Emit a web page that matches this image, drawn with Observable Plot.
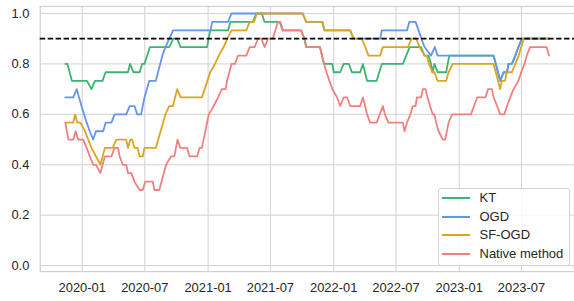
<!DOCTYPE html>
<html><head><meta charset="utf-8">
<script src="https://cdn.jsdelivr.net/npm/d3@7"></script>
<script src="https://cdn.jsdelivr.net/npm/@observablehq/plot@0.6"></script>
<style>
body{margin:0;background:#fff;}
#wrap{position:relative;width:574px;height:301px;overflow:hidden;font-family:"Liberation Sans",Arial,sans-serif;color:#262626;}
#wrap svg{position:absolute;left:0;top:0;}
.legend{position:absolute;left:437.5px;top:187.5px;width:130px;height:76px;border:1px solid #d4d4d4;border-radius:3px;background:rgba(255,255,255,0.85);}
.row{position:absolute;left:0;height:0;}
.sw{position:absolute;left:3px;width:28px;height:2px;top:-1px;}
.lab{position:absolute;left:41px;top:-8px;font-size:13px;line-height:16px;white-space:nowrap;}
</style></head>
<body><div id="wrap"></div>
<script>
// Series names and colours
const seriesNames = ["KT", "OGD", "SF-OGD", "Native method"];
const seriesColors = ["#3cb371", "#6495ed", "#daa520", "#f08080"];

// x = days since 2020-01-01, y = coverage
const ktDays = [-49,-43,-30,14,27,37,59,68,133,139,149,167,174,181,197,253,265,276,286,363,372,424,431,496,506,522,530,574,583,636,646,651,691,703,727,731,750,760,775,784,808,816,828,856,871,932,952,985,995,1007,1014,1018,1024,1033,1058,1067,1196,1215,1225,1235,1239,1249,1259,1268,1278,1357];
const ktValues = [0.8,0.8,0.733,0.733,0.7,0.733,0.733,0.767,0.767,0.8,0.767,0.767,0.8,0.8,0.867,0.867,0.9,0.9,0.867,0.867,0.933,0.933,0.967,0.967,1.0,1.0,0.967,0.967,0.933,0.933,0.9,0.867,0.867,0.8,0.8,0.767,0.767,0.8,0.8,0.767,0.767,0.8,0.733,0.733,0.8,0.8,0.867,0.867,0.833,0.833,0.8,0.767,0.8,0.767,0.767,0.833,0.833,0.733,0.767,0.767,0.8,0.8,0.833,0.867,0.9,0.9];

const ogdDays = [-49,-26,-16,-2,13,22,32,40,61,68,85,94,128,138,152,160,171,181,195,214,233,242,264,373,378,424,434,641,651,698,704,779,789,866,871,944,951,969,978,986,995,1014,1025,1033,1196,1215,1225,1235,1239,1249,1259,1268,1278,1357];
const ogdValues = [0.667,0.667,0.7,0.633,0.567,0.533,0.5,0.533,0.533,0.567,0.567,0.6,0.6,0.633,0.633,0.6,0.6,0.667,0.733,0.733,0.833,0.867,0.933,0.933,0.967,0.967,1.0,1.0,0.967,0.967,0.933,0.933,0.9,0.9,0.933,0.933,0.967,0.967,0.933,0.9,0.867,0.833,0.867,0.833,0.833,0.733,0.767,0.767,0.8,0.8,0.833,0.867,0.9,0.9];

const sfDays = [-49,-26,-21,-14,-5,8,27,53,66,89,99,128,133,140,145,152,161,167,176,181,214,242,253,264,276,286,348,356,372,386,397,411,422,434,477,487,499,508,641,651,698,704,779,789,813,823,832,866,874,947,957,971,981,995,1001,1008,1018,1024,1033,1058,1065,1077,1196,1215,1220,1229,1234,1249,1259,1269,1276,1284,1357];
const sfValues = [0.567,0.567,0.6,0.567,0.567,0.533,0.467,0.4,0.467,0.467,0.5,0.5,0.467,0.5,0.5,0.467,0.467,0.433,0.433,0.467,0.467,0.6,0.633,0.633,0.7,0.667,0.667,0.7,0.767,0.8,0.833,0.867,0.9,0.933,0.933,0.967,0.967,1.0,1.0,0.967,0.967,0.933,0.933,0.9,0.9,0.867,0.833,0.833,0.867,0.867,0.9,0.9,0.867,0.833,0.833,0.8,0.767,0.767,0.733,0.733,0.767,0.8,0.8,0.7,0.733,0.733,0.767,0.767,0.8,0.833,0.867,0.9,0.9];

const nativeDays = [-49,-40,-26,-19,-12,3,13,22,32,40,53,66,85,94,104,109,118,128,133,143,152,167,176,183,205,210,224,244,258,268,277,285,305,312,334,341,348,368,382,395,406,417,421,434,444,453,477,487,501,511,521,530,540,554,569,576,583,636,646,651,691,703,710,727,741,750,760,770,779,808,816,828,837,856,874,880,890,932,937,944,954,961,969,973,985,990,998,1004,1011,1019,1024,1029,1036,1048,1055,1060,1065,1075,1130,1139,1148,1172,1180,1191,1196,1206,1215,1227,1235,1244,1254,1268,1276,1286,1292,1302,1350,1357];
const nativeValues = [0.567,0.5,0.5,0.533,0.5,0.5,0.467,0.433,0.4,0.4,0.367,0.433,0.433,0.467,0.467,0.433,0.4,0.4,0.367,0.367,0.333,0.3,0.3,0.333,0.333,0.3,0.3,0.4,0.433,0.433,0.5,0.467,0.467,0.433,0.433,0.467,0.467,0.6,0.633,0.667,0.7,0.7,0.733,0.8,0.8,0.833,0.833,0.867,0.867,0.9,0.9,0.867,0.9,0.9,0.967,0.967,0.933,0.933,0.9,0.867,0.867,0.8,0.767,0.7,0.667,0.633,0.667,0.667,0.633,0.633,0.667,0.6,0.567,0.567,0.633,0.6,0.567,0.567,0.533,0.567,0.6,0.633,0.633,0.667,0.667,0.7,0.7,0.667,0.633,0.6,0.6,0.567,0.533,0.5,0.5,0.533,0.567,0.6,0.6,0.633,0.667,0.667,0.7,0.7,0.667,0.633,0.6,0.6,0.633,0.667,0.7,0.733,0.767,0.8,0.833,0.867,0.867,0.833];

const targetLevel = 0.9;
const xTickDates = ["2020-01-01","2020-07-01","2021-01-01","2021-07-01","2022-01-01","2022-07-01","2023-01-01","2023-07-01"];
const yTickValues = [0, 0.2, 0.4, 0.6, 0.8, 1.0];

const baseMs = Date.UTC(2020, 0, 1);
const toDate = d => new Date(baseMs + d * 864e5);
const dayLists = [ktDays, ogdDays, sfDays, nativeDays];
const valueLists = [ktValues, ogdValues, sfValues, nativeValues];
const tables = seriesNames.map((name, i) =>
  dayLists[i].map((d, j) => ({series: name, date: toDate(d), value: valueLists[i][j]})));
const xTicks = xTickDates.map(s => new Date(s + "T00:00:00Z"));

const chart = Plot.plot({
  width: 578, height: 301,
  marginLeft: 40, marginRight: 0, marginTop: 6, marginBottom: 28,
  style: {fontSize: "13px", fontFamily: '"Liberation Sans", Arial, sans-serif', color: "#262626", background: "transparent"},
  x: {type: "utc", domain: [toDate(-122), toDate(1431)], ticks: xTicks, tickFormat: d3.utcFormat("%Y-%m"), tickSize: 0, tickPadding: 11, label: null},
  y: {domain: [-0.0237, 1.028], ticks: yTickValues, tickFormat: d3.format(".1f"), tickSize: 0, tickPadding: 11, label: null},
  marks: [
    Plot.ruleX(xTicks, {stroke: "#d2d2d2", strokeWidth: 1}),
    Plot.ruleY(yTickValues, {stroke: "#d2d2d2", strokeWidth: 1}),
    Plot.frame({stroke: "#cfcfcf", strokeWidth: 1.2}),
    ...tables.map((t, i) => Plot.line(t, {x: "date", y: "value", stroke: seriesColors[i], strokeWidth: 1.8, strokeLinejoin: "round"})),
    Plot.ruleY([targetLevel], {stroke: "#000", strokeWidth: 1.8, strokeDasharray: "5.5,2.5"})
  ]
});
const wrap = document.getElementById("wrap");
wrap.appendChild(chart);

const leg = document.createElement("div");
leg.className = "legend";
const rowTops = [9, 28, 46.6, 65.3];
seriesNames.forEach((name, i) => {
  const r = document.createElement("div");
  r.className = "row";
  r.style.top = rowTops[i] + "px";
  r.innerHTML = `<div class="sw" style="background:${seriesColors[i]}"></div><div class="lab">${name}</div>`;
  leg.appendChild(r);
});
wrap.appendChild(leg);
</script></body></html>
